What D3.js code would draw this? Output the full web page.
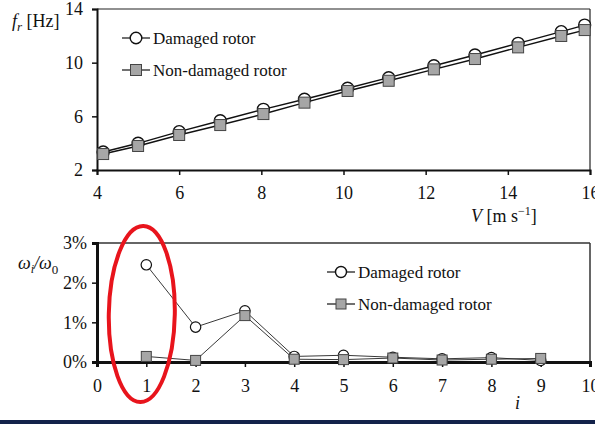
<!DOCTYPE html>
<html>
<head>
<meta charset="utf-8">
<script src="https://cdn.jsdelivr.net/npm/d3@7"></script>
<style>
  body { margin: 0; background: #fff; }
  svg { display: block; font-family: "Liberation Serif", "Times New Roman", serif; }
</style>
</head>
<body>
<div id="grafico"></div>
<script>
// dados - grafico de cima (frequencia vs velocidade)
var velocidade = [4.15, 5.0, 6.0, 7.0, 8.05, 9.05, 10.1, 11.1, 12.2, 13.2, 14.25, 15.3, 15.87];
var freqDanificado = [3.34, 3.99, 4.86, 5.67, 6.52, 7.27, 8.09, 8.88, 9.77, 10.57, 11.44, 12.31, 12.80];
var freqNormal = [3.19, 3.79, 4.61, 5.35, 6.17, 7.02, 7.89, 8.65, 9.50, 10.27, 11.14, 11.99, 12.43];
var ticksV = [4, 6, 8, 10, 12, 14, 16];
var ticksF = [2, 6, 10, 14];

// dados - grafico de baixo (razao de frequencias por modo)
var modos = [1, 2, 3, 4, 5, 6, 7, 8, 9];
var razaoDanificado = [2.45, 0.88, 1.29, 0.14, 0.17, 0.12, 0.08, 0.11, 0.04];
var razaoNormal = [0.14, 0.04, 1.17, 0.07, 0.06, 0.10, 0.05, 0.07, 0.09];
var ticksI = [0, 1, 2, 3, 4, 5, 6, 7, 8, 9, 10];
var ticksPct = [0, 1, 2, 3];

var legenda = ["Damaged rotor", "Non-damaged rotor"];

var svg = d3.select("#grafico").append("svg")
    .attr("width", 595)
    .attr("height", 424);

// ---------- grafico de cima ----------
var x1 = d3.scaleLinear().domain([4, 16]).range([97, 590]);
var y1 = d3.scaleLinear().domain([2, 14]).range([170, 9]);

var g1 = svg.append("g");

// borda superior e direita
g1.append("line").attr("x1", 97).attr("x2", 590).attr("y1", 9).attr("y2", 9)
    .attr("stroke", "#222").attr("stroke-width", 1.2);
g1.append("line").attr("x1", 590).attr("x2", 590).attr("y1", 9).attr("y2", 170)
    .attr("stroke", "#222").attr("stroke-width", 1.2);

var eixoX1 = g1.append("g").attr("transform", "translate(0,170)")
    .call(d3.axisBottom(x1).tickValues(ticksV).tickSize(5).tickPadding(11).tickFormat(d3.format("d")));
var eixoY1 = g1.append("g").attr("transform", "translate(97,0)")
    .call(d3.axisLeft(y1).tickValues(ticksF).tickSize(5).tickPadding(9).tickFormat(d3.format("d")));

[eixoX1, eixoY1].forEach(function(eixo){
    eixo.select(".domain").attr("stroke", "#111").attr("stroke-width", 2);
    eixo.selectAll(".tick line").attr("stroke", "#111").attr("stroke-width", 1.5);
    eixo.selectAll(".tick text").attr("font-size", 18).attr("fill", "#111")
        .attr("font-family", "Liberation Serif");
});

var linha1 = d3.line().x(function(d){ return x1(d[0]); }).y(function(d){ return y1(d[1]); });
var ptsDan1 = velocidade.map(function(v, i){ return [v, freqDanificado[i]]; });
var ptsNor1 = velocidade.map(function(v, i){ return [v, freqNormal[i]]; });

g1.append("path").attr("d", linha1(ptsDan1)).attr("fill", "none").attr("stroke", "#111").attr("stroke-width", 1.4);
g1.append("path").attr("d", linha1(ptsNor1)).attr("fill", "none").attr("stroke", "#111").attr("stroke-width", 1.4);

g1.selectAll(".circ").data(ptsDan1).enter().append("circle")
    .attr("cx", function(d){ return x1(d[0]); })
    .attr("cy", function(d){ return y1(d[1]); })
    .attr("r", 6).attr("fill", "#fff").attr("stroke", "#111").attr("stroke-width", 1.4);
g1.selectAll(".quad").data(ptsNor1).enter().append("rect")
    .attr("x", function(d){ return x1(d[0]) - 5.5; })
    .attr("y", function(d){ return y1(d[1]) - 5.5; })
    .attr("width", 11).attr("height", 11)
    .attr("fill", "#a6a6a6").attr("stroke", "#444").attr("stroke-width", 1);

// rotulos dos eixos
var rotF = g1.append("text").attr("x", 12).attr("y", 27).attr("font-size", 18).attr("fill", "#111");
rotF.append("tspan").attr("font-style", "italic").text("f");
rotF.append("tspan").attr("font-style", "italic").attr("font-size", 13).attr("dy", 4).text("r");
rotF.append("tspan").attr("dy", -4).text(" [Hz]");

var rotV = g1.append("text").attr("x", 471).attr("y", 222).attr("font-size", 18).attr("fill", "#111");
rotV.append("tspan").attr("font-style", "italic").text("V");
rotV.append("tspan").text(" [m s");
rotV.append("tspan").attr("font-size", 12).attr("dy", -7).text("\u22121");
rotV.append("tspan").attr("dy", 7).text("]");

// ---------- grafico de baixo ----------
var x2 = d3.scaleLinear().domain([0, 10]).range([97, 590]);
var y2 = d3.scaleLinear().domain([0, 3]).range([362, 243]);

var g2 = svg.append("g");

g2.append("line").attr("x1", 97).attr("x2", 590).attr("y1", 243).attr("y2", 243)
    .attr("stroke", "#333").attr("stroke-width", 1.5);
g2.append("line").attr("x1", 590).attr("x2", 590).attr("y1", 243).attr("y2", 362)
    .attr("stroke", "#333").attr("stroke-width", 1.5);

var eixoX2 = g2.append("g").attr("transform", "translate(0,362)")
    .call(d3.axisBottom(x2).tickValues(ticksI).tickSize(5).tickPadding(12).tickFormat(d3.format("d")));
var eixoY2 = g2.append("g").attr("transform", "translate(97,0)")
    .call(d3.axisLeft(y2).tickValues(ticksPct).tickSize(5).tickPadding(5).tickFormat(function(d){ return d + "%"; }));

[eixoX2, eixoY2].forEach(function(eixo){
    eixo.select(".domain").attr("stroke", "#111").attr("stroke-width", 3);
    eixo.selectAll(".tick line").attr("stroke", "#111").attr("stroke-width", 1.5);
    eixo.selectAll(".tick text").attr("font-size", 18).attr("fill", "#111")
        .attr("font-family", "Liberation Serif");
});

var linha2 = d3.line().x(function(d){ return x2(d[0]); }).y(function(d){ return y2(d[1]); });
var ptsDan2 = modos.map(function(m, i){ return [m, razaoDanificado[i]]; });
var ptsNor2 = modos.map(function(m, i){ return [m, razaoNormal[i]]; });

g2.append("path").attr("d", linha2(ptsDan2)).attr("fill", "none").attr("stroke", "#222").attr("stroke-width", 0.9);
g2.append("path").attr("d", linha2(ptsNor2)).attr("fill", "none").attr("stroke", "#222").attr("stroke-width", 0.9);

g2.selectAll(".circ").data(ptsDan2).enter().append("circle")
    .attr("cx", function(d){ return x2(d[0]); })
    .attr("cy", function(d){ return y2(d[1]); })
    .attr("r", 5.2).attr("fill", "#fff").attr("stroke", "#111").attr("stroke-width", 1.2);
g2.selectAll(".quad").data(ptsNor2).enter().append("rect")
    .attr("x", function(d){ return x2(d[0]) - 5; })
    .attr("y", function(d){ return y2(d[1]) - 5; })
    .attr("width", 10).attr("height", 10)
    .attr("fill", "#a6a6a6").attr("stroke", "#444").attr("stroke-width", 1);

var rotW = g2.append("text").attr("x", 18).attr("y", 269).attr("font-size", 18).attr("fill", "#111");
rotW.append("tspan").attr("font-style", "italic").text("\u03c9");
rotW.append("tspan").attr("font-style", "italic").attr("font-size", 12).attr("dy", 4).text("i");
rotW.append("tspan").attr("font-style", "italic").attr("dy", -4).text("/\u03c9");
rotW.append("tspan").attr("font-size", 13).attr("dy", 5).text("0");

g2.append("text").attr("x", 515).attr("y", 409).attr("font-size", 18)
    .attr("font-style", "italic").attr("fill", "#111").text("i");

// ---------- legendas ----------
function desenhaLegenda(x0, y0, raio, lado){
    var lg = svg.append("g");
    legenda.forEach(function(nome, k){
        var yy = y0 + k * 32;
        lg.append("line").attr("x1", x0).attr("x2", x0 + 28).attr("y1", yy).attr("y2", yy)
            .attr("stroke", "#111").attr("stroke-width", 1.2);
        if (k == 0) {
            lg.append("circle").attr("cx", x0 + 14).attr("cy", yy).attr("r", raio)
                .attr("fill", "#fff").attr("stroke", "#111").attr("stroke-width", 1.4);
        } else {
            lg.append("rect").attr("x", x0 + 14 - lado / 2).attr("y", yy - lado / 2)
                .attr("width", lado).attr("height", lado)
                .attr("fill", "#a6a6a6").attr("stroke", "#444").attr("stroke-width", 1);
        }
        lg.append("text").attr("x", x0 + 31).attr("y", yy + 6).attr("font-size", 17)
            .attr("fill", "#111").text(nome);
    });
}
desenhaLegenda(122, 38, 5.8, 11);
desenhaLegenda(327, 272, 5.5, 10);

// ---------- destaque vermelho no modo 1 ----------
var cxElipse = x2(1) - 4.5;
svg.append("ellipse")
    .attr("cx", cxElipse).attr("cy", 314)
    .attr("rx", 33).attr("ry", 88)
    .attr("transform", "rotate(1," + cxElipse + ",314)")
    .attr("fill", "none").attr("stroke", "#e8141c").attr("stroke-width", 4);

// faixa escura no rodape
svg.append("rect").attr("x", 0).attr("y", 420).attr("width", 595).attr("height", 4).attr("fill", "#13224a");
</script>
</body>
</html>
